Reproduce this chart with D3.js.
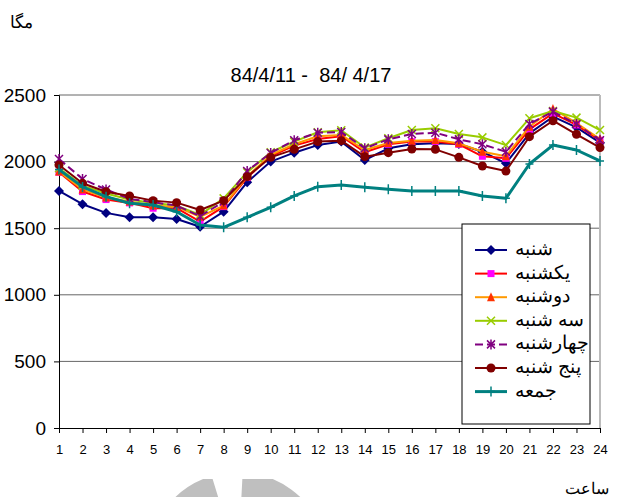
<!DOCTYPE html>
<html>
<head>
<meta charset="utf-8">
<script src="https://cdn.jsdelivr.net/npm/d3@7"></script>
<style>
  html, body { margin: 0; padding: 0; background: #fff; }
  svg { display: block; }
</style>
</head>
<body>
<svg id="chart" width="621" height="497"></svg>
<script>
// ساعت های روز
const hours = d3.range(1, 25);
const yTicks = [0, 500, 1000, 1500, 2000, 2500];

// مصرف (مگاوات) برای هر روز هفته
const shanbe     = [1780, 1680, 1615, 1582, 1582, 1569, 1511, 1624, 1845, 2000, 2067, 2124, 2150, 2012, 2100, 2130, 2137, 2132, 2074, 1987, 2212, 2337, 2257, 2142];
const yekshanbe  = [1920, 1775, 1715, 1690, 1650, 1650, 1549, 1662, 1880, 2040, 2120, 2170, 2190, 2070, 2130, 2150, 2150, 2130, 2040, 2025, 2242, 2362, 2275, 2160];
const doshanbe   = [1925, 1790, 1730, 1700, 1670, 1660, 1586, 1670, 1890, 2050, 2130, 2190, 2200, 2087, 2140, 2157, 2162, 2137, 2074, 2040, 2262, 2395, 2290, 2170];
const seshanbe   = [1950, 1820, 1760, 1715, 1690, 1670, 1600, 1724, 1920, 2070, 2150, 2220, 2235, 2105, 2175, 2237, 2250, 2207, 2182, 2124, 2325, 2380, 2330, 2237];
const chaharsh   = [2020, 1870, 1790, 1720, 1695, 1670, 1590, 1700, 1930, 2065, 2160, 2217, 2222, 2100, 2167, 2207, 2217, 2167, 2130, 2074, 2282, 2375, 2282, 2160];
const panjshanbe = [1975, 1837, 1774, 1742, 1707, 1692, 1637, 1707, 1887, 2032, 2092, 2150, 2157, 2037, 2067, 2095, 2092, 2032, 1967, 1929, 2187, 2307, 2205, 2105];
const jome       = [1940, 1810, 1737, 1687, 1674, 1624, 1524, 1507, 1582, 1657, 1742, 1812, 1824, 1807, 1792, 1779, 1779, 1779, 1742, 1724, 1982, 2124, 2087, 2005];

const names = ['شنبه', 'یکشنبه', 'دوشنبه', 'سه شنبه', 'چهارشنبه', 'پنج شنبه', 'جمعه'];

const series = [
  { name: names[0], values: shanbe,     line: '#000080', mark: 'diamond',  fill: '#000080', width: 2 },
  { name: names[1], values: yekshanbe,  line: '#FF0000', mark: 'square',   fill: '#FF00FF', width: 2 },
  { name: names[2], values: doshanbe,   line: '#FF9900', mark: 'triangle', fill: '#FF3300', width: 2 },
  { name: names[3], values: seshanbe,   line: '#99CC00', mark: 'x',        fill: '#99CC00', width: 2 },
  { name: names[4], values: chaharsh,   line: '#800080', mark: 'star',     fill: '#800080', width: 2, dash: '8,4' },
  { name: names[5], values: panjshanbe, line: '#800000', mark: 'circle',   fill: '#800000', width: 2 },
  { name: names[6], values: jome,       line: '#008080', mark: 'plus',     fill: '#008080', width: 3 }
];

const svg = d3.select('#chart');
const pLeft = 59, pRight = 600, pTop = 95, pBottom = 428;

const x = d3.scalePoint().domain(hours).range([pLeft, pRight]);
const y = d3.scaleLinear().domain([0, 2500]).range([pBottom, pTop]);

// لوگوی خاکستری پایین صفحه
svg.append('defs').append('clipPath').attr('id', 'wm')
  .append('rect').attr('x', 150).attr('y', 479).attr('width', 200).attr('height', 20);
const ring = d3.arc().innerRadius(60).outerRadius(90);
const wm = svg.append('g').attr('clip-path', 'url(#wm)')
  .append('g').attr('transform', 'translate(238,562)');
wm.append('path').attr('fill', '#bfbfbf')
  .attr('d', ring({ startAngle: -60 * Math.PI / 180, endAngle: -17 * Math.PI / 180 }));
wm.append('path').attr('fill', '#bfbfbf')
  .attr('d', ring({ startAngle: 3 * Math.PI / 180, endAngle: 70 * Math.PI / 180 }));

// خطوط شبکه
svg.append('g').selectAll('line')
  .data(yTicks.filter(d => d > 0))
  .join('line')
  .attr('x1', pLeft).attr('x2', pRight)
  .attr('y1', d => y(d)).attr('y2', d => y(d))
  .attr('stroke', '#666').attr('stroke-width', 1);

svg.append('line')
  .attr('x1', pRight).attr('x2', pRight).attr('y1', pTop).attr('y2', pBottom)
  .attr('stroke', '#bbb').attr('stroke-width', 2);

// محورها
const yAxis = svg.append('g')
  .attr('transform', `translate(${pLeft},0)`)
  .call(d3.axisLeft(y).tickValues(yTicks).tickSize(5).tickPadding(8).tickFormat(d3.format('d')));
yAxis.selectAll('text').attr('font-family', 'Liberation Sans, Arial, sans-serif')
  .attr('font-size', 19).attr('fill', '#000');

const xAxis = svg.append('g')
  .attr('transform', `translate(0,${pBottom})`)
  .call(d3.axisBottom(x).tickSize(5).tickPadding(12));
xAxis.selectAll('text').attr('font-family', 'Liberation Sans, Arial, sans-serif')
  .attr('font-size', 13).attr('fill', '#000');
svg.selectAll('.domain, .tick line').attr('stroke', '#000');

// خطوط سری ها
const line = d3.line().x((d, i) => x(hours[i])).y(d => y(d));

function marker(g, type, color, fill) {
  const s = 4;
  if (type === 'diamond') {
    g.append('path').attr('d', `M0,${-s - 1}L${s + 1},0L0,${s + 1}L${-s - 1},0Z`).attr('fill', fill);
  } else if (type === 'square') {
    g.append('rect').attr('x', -s + 0.5).attr('y', -s + 0.5).attr('width', 2 * s - 1).attr('height', 2 * s - 1)
      .attr('fill', fill);
  } else if (type === 'triangle') {
    g.append('path').attr('d', `M0,${-s - 1}L${s},${s}L${-s},${s}Z`).attr('fill', fill);
  } else if (type === 'x') {
    g.append('path').attr('d', `M${-s},${-s}L${s},${s}M${-s},${s}L${s},${-s}`)
      .attr('stroke', color).attr('stroke-width', 1.5).attr('fill', 'none');
  } else if (type === 'star') {
    g.append('path').attr('d', `M${-s},${-s}L${s},${s}M${-s},${s}L${s},${-s}M0,${-s - 1}L0,${s + 1}`)
      .attr('stroke', color).attr('stroke-width', 1.5).attr('fill', 'none');
  } else if (type === 'circle') {
    g.append('circle').attr('r', s + 0.5).attr('fill', fill);
  } else if (type === 'plus') {
    g.append('path').attr('d', `M${-s},0L${s},0M0,${-s - 1}L0,${s + 1}`)
      .attr('stroke', color).attr('stroke-width', 1.5).attr('fill', 'none');
  }
}

const plot = svg.append('g');
series.forEach(s => {
  const g = plot.append('g');
  g.append('path')
    .attr('d', line(s.values))
    .attr('fill', 'none')
    .attr('stroke', s.line)
    .attr('stroke-width', s.width)
    .attr('stroke-dasharray', s.dash || null)
    .attr('stroke-linejoin', 'round');
  g.selectAll('g.m')
    .data(s.values)
    .join('g')
    .attr('class', 'm')
    .attr('transform', (d, i) => `translate(${x(hours[i])},${y(d)})`)
    .each(function () { marker(d3.select(this), s.mark, s.line, s.fill); });
});

// راهنما
const legend = svg.append('g');
legend.append('rect')
  .attr('x', 462).attr('y', 224).attr('width', 128).attr('height', 200)
  .attr('fill', '#fff').attr('stroke', '#000').attr('stroke-width', 1);
series.forEach((s, i) => {
  const ly = 250 + i * 23.6;
  const g = legend.append('g');
  g.append('line')
    .attr('x1', 475).attr('x2', 507).attr('y1', ly).attr('y2', ly)
    .attr('stroke', s.line).attr('stroke-width', s.width)
    .attr('stroke-dasharray', s.dash || null);
  marker(g.append('g').attr('transform', `translate(491,${ly})`), s.mark, s.line, s.fill);
  g.append('text')
    .attr('x', 515).attr('y', ly + 5)
    .attr('font-family', 'Times New Roman, Liberation Serif, DejaVu Serif, serif')
    .attr('font-size', 19)
    .text(s.name);
});

// عنوان و برچسب ها
svg.append('text')
  .attr('x', 311).attr('y', 82)
  .attr('text-anchor', 'middle')
  .attr('font-family', 'Liberation Sans, Arial, sans-serif')
  .attr('font-size', 20)
  .style('white-space', 'pre')
  .text('84/4/11 -  84/ 4/17');

svg.append('text')
  .attr('x', 10).attr('y', 28)
  .attr('font-family', 'Times New Roman, Liberation Serif, DejaVu Serif, serif')
  .attr('font-size', 17)
  .text('مگا');

svg.append('text')
  .attr('x', 609).attr('y', 494)
  .attr('text-anchor', 'end')
  .attr('font-family', 'Times New Roman, Liberation Serif, DejaVu Serif, serif')
  .attr('font-size', 16)
  .text('ساعت');
</script>
</body>
</html>
